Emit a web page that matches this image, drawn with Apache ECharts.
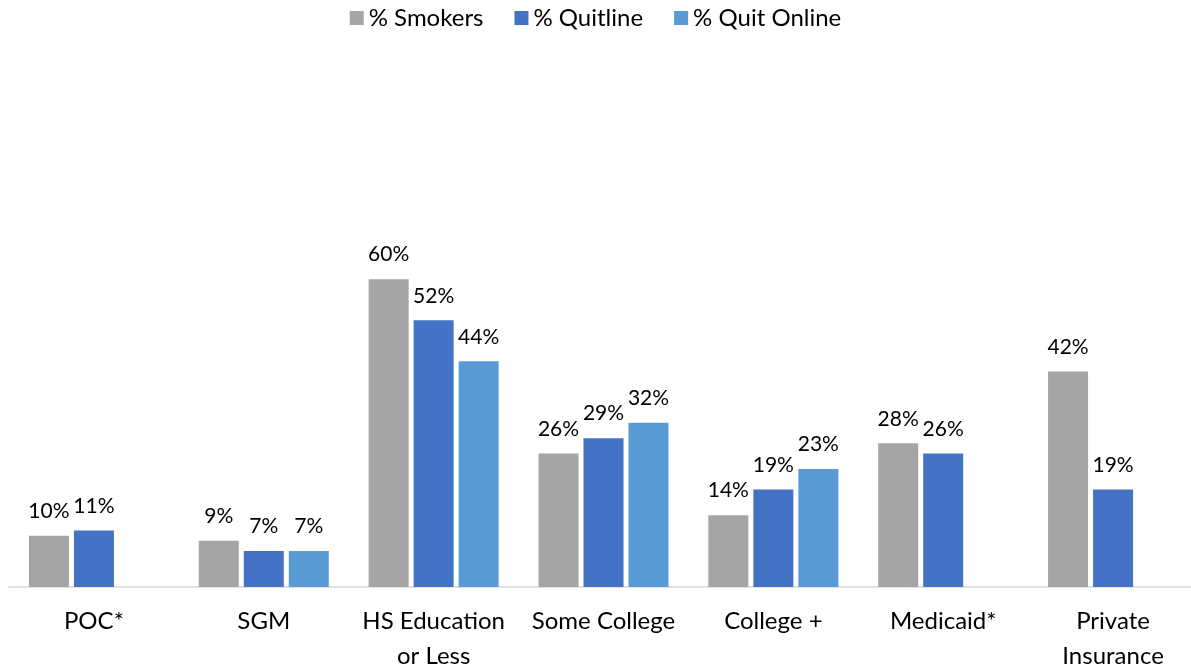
<!DOCTYPE html>
<html>
<head>
<meta charset="utf-8">
<script src="https://cdn.jsdelivr.net/npm/echarts@6/dist/echarts.min.js"></script>
<style>html,body{margin:0;padding:0;background:#fff;}#main{width:1191px;height:666px;}</style>
</head>
<body>
<div id="main"></div>
<script>
const categories = ['POC*', 'SGM', 'HS Education\nor Less', 'Some College', 'College +', 'Medicaid*', 'Private\nInsurance'];
const smokers = [10, 9, 60, 26, 14, 28, 42];
const quitline = [11, 7, 52, 29, 19, 26, 19];
const quitOnline = [null, 7, 44, 32, 23, null, null];
const seriesNames = ['% Smokers', '% Quitline', '% Quit Online'];
const colors = ['#A5A5A5', '#4472C4', '#5B9BD5'];

const FONT = 'Lato';
const chart = echarts.init(document.getElementById('main'), null, {renderer: 'canvas'});
const label = {
  show: true, position: 'top', distance: 14,
  formatter: p => p.value == null ? '' : p.value + '%',
  fontFamily: FONT, fontSize: 21, color: '#000'
};
function mk(name, data, color) {
  return { name, type: 'bar', data, barWidth: 40, barGap: '12.5%',
    itemStyle: { color }, label, emphasis: { disabled: true } };
}
chart.setOption({
  animation: false,
  color: colors,
  legend: {
    top: 6, left: 'center', padding: 0, icon: 'rect', itemWidth: 14, itemHeight: 14, itemGap: 31, itemTextGap: 7,
    textStyle: { fontFamily: FONT, fontSize: 24, color: '#000' },
    data: seriesNames
  },
  grid: { left: 9, top: 74, width: 1189, bottom: 79, containLabel: false, outerBoundsMode: 'none' },
  xAxis: {
    type: 'category', data: categories,
    axisLine: { lineStyle: { color: '#D9D9D9', width: 1.5 } },
    axisTick: { show: false },
    axisLabel: { fontFamily: FONT, fontSize: 24, color: '#000', margin: 17, lineHeight: 35, interval: 0 }
  },
  yAxis: { type: 'value', min: 0, max: 100, show: false, splitLine: { show: false } },
  series: [
    mk(seriesNames[0], smokers, colors[0]),
    mk(seriesNames[1], quitline, colors[1]),
    mk(seriesNames[2], quitOnline, colors[2])
  ]
});
</script>
</body>
</html>
